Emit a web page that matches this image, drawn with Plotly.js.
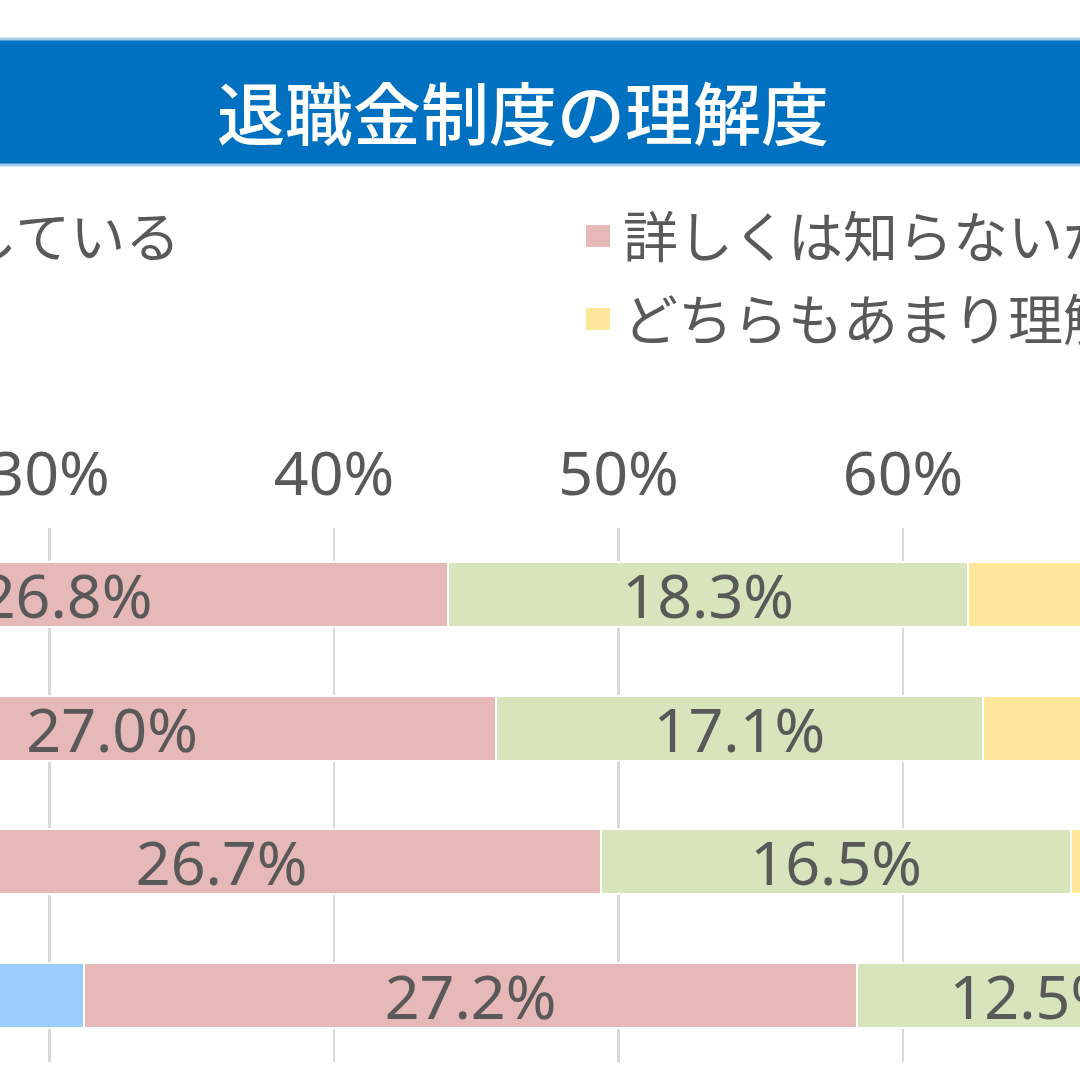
<!DOCTYPE html>
<html>
<head>
<meta charset="utf-8">
<script src="https://cdn.plot.ly/plotly-3.0.1.min.js"></script>
<style>
  html, body { margin: 0; padding: 0; width: 1080px; height: 1080px; overflow: hidden; background: #ffffff; }
  #chart { position: absolute; left: -1104px; top: 0; width: 3245px; height: 1080px; }
</style>
</head>
<body>
<div id="chart"></div>
<script>
// ---- data ----
const categories = ['20代', '30代', '40代', '50代'];
const seriesNames = [
  '退職金制度も金額も理解している',
  '詳しくは知らないが、おおよそ理解している',
  '制度のみ理解している',
  'どちらもあまり理解していない'
];
const blueVals   = [17.2, 18.7, 22.7, 31.2];
const pinkVals   = [26.8, 27.0, 26.7, 27.2];
const greenVals  = [18.3, 17.1, 16.5, 12.5];
const yellowVals = [37.7, 37.2, 34.1, 29.1];
const xTickVals  = [0, 10, 20, 30, 40, 50, 60, 70, 80, 90, 100];
const xTickText  = ['0%', '10%', '20%', '30%', '40%', '50%', '60%', '70%', '80%', '90%', '100%'];
const chartTitle = '退職金制度の理解度';

// ---- styling / layout ----
const colors = ['#99CCFF', '#E6B8B7', '#D8E4BC', '#FFE699'];
const FIG_W = 3245, FIG_H = 1080;
const OFFX = 1104;               // div offset to the left
const M = { l: 300, r: 100, t: 528, b: 18 };
const PW = FIG_W - M.l - M.r;   // plot width
const PH = FIG_H - M.t - M.b;   // plot height
const plotLeftV = M.l - OFFX;   // plot left edge in viewport px
function px(vx) { return (vx - plotLeftV) / PW; }
function py(vy) { return (FIG_H - M.b - vy) / PH; }

const TXT = '#595959';
const FONT = 'Noto Sans, Noto Sans CJK JP, sans-serif';
const JFONT = 'Noto Sans CJK JP, Noto Sans, sans-serif';

const valueSets = [blueVals, pinkVals, greenVals, yellowVals];
const traces = valueSets.map((vals, i) => ({
  type: 'bar',
  orientation: 'h',
  name: seriesNames[i],
  y: categories,
  x: vals,
  marker: { color: colors[i], line: { color: '#ffffff', width: 2 } },
  texttemplate: '%{x:.1f}%',
  textposition: 'inside',
  insidetextanchor: 'middle',
  constraintext: 'none',
  textangle: 0,
  textfont: { family: FONT, size: 61, color: TXT },
  hoverinfo: 'skip',
  showlegend: false
}));

// legend (drawn as annotations + squares)
const legendRows = [233, 316];
const leftColText = -645, rightColText = 621;
const legendItems = [
  { col: leftColText,  row: 0, i: 0 },
  { col: rightColText, row: 0, i: 1 },
  { col: leftColText,  row: 1, i: 2 },
  { col: rightColText, row: 1, i: 3 }
];
const annotations = [];
const shapes = [];

// title banner
shapes.push({
  type: 'rect', xref: 'paper', yref: 'paper', layer: 'below',
  x0: px(-OFFX), x1: px(FIG_W - OFFX), y0: py(165), y1: py(39),
  fillcolor: '#0070C0', line: { color: '#A9CBEB', width: 3 }
});
annotations.push({
  xref: 'paper', yref: 'paper', x: px(523), y: py(110),
  xanchor: 'center', yanchor: 'middle', showarrow: false,
  text: chartTitle,
  font: { family: JFONT, size: 68, color: '#ffffff', weight: 500 }
});

legendItems.forEach(it => {
  const cy = legendRows[it.row];
  shapes.push({
    type: 'rect', xref: 'paper', yref: 'paper',
    x0: px(it.col - 35), x1: px(it.col - 11), y0: py(cy + 14), y1: py(cy - 8),
    fillcolor: colors[it.i], line: { width: 0 }
  });
  annotations.push({
    xref: 'paper', yref: 'paper', x: px(it.col), y: py(cy),
    xanchor: 'left', yanchor: 'middle', showarrow: false,
    text: seriesNames[it.i],
    font: { family: JFONT, size: 55, color: TXT }
  });
});

const layout = {
  width: FIG_W, height: FIG_H,
  margin: M,
  paper_bgcolor: '#ffffff', plot_bgcolor: '#ffffff',
  barmode: 'stack',
  bargap: 0.513,
  showlegend: false,
  xaxis: {
    side: 'top', range: [0, 100],
    tickvals: xTickVals, ticktext: xTickText,
    showgrid: true, gridcolor: '#D9D9D9', gridwidth: 2.5,
    zeroline: false, showline: false, ticks: '',
    ticklabelstandoff: 20,
    tickfont: { family: FONT, size: 61, color: TXT },
    fixedrange: true
  },
  yaxis: {
    type: 'category', range: [3.5, -0.5],
    showgrid: false, zeroline: false, showline: false, ticks: '',
    tickfont: { family: JFONT, size: 40, color: TXT },
    fixedrange: true
  },
  shapes: shapes,
  annotations: annotations,
  font: { family: FONT, color: TXT }
};

Plotly.newPlot('chart', traces, layout, { displayModeBar: false, staticPlot: true });
</script>
</body>
</html>
